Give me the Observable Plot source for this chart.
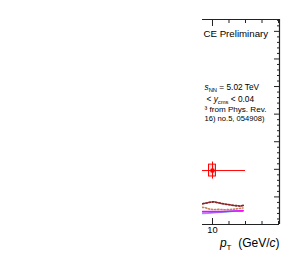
<!DOCTYPE html>
<html><head><meta charset="utf-8">
<script src="https://cdn.jsdelivr.net/npm/d3@7"></script>
<script src="https://cdn.jsdelivr.net/npm/@observablehq/plot@0.6"></script>
<style>body{margin:0;background:#fff}svg{display:block}</style>
</head><body><div id="chart"></div>
<script>
// ---- tick values / labels ----
const xMajorTicks = [10];
const xTickLabels = ["10"];
const xMinorTicks = [12, 14, 16, 18];
const yMajorTicks = [0.2, 0.4, 0.6, 0.8, 1.0, 1.2, 1.4];
const yMinorTicks = [0.04,0.08,0.12,0.16,0.24,0.28,0.32,0.36,0.44,0.48,0.52,0.56,0.64,0.68,0.72,0.76,0.84,0.88,0.92,0.96,1.04,1.08,1.12,1.16,1.24,1.28,1.32,1.36,1.44,1.48];

// ---- data point (pT, value, errors, bin edges) ----
const pointPt = [10.0];
const pointVal = [0.391];
const pointStat = [0.062];
const pointSys = [0.043];
const pointBinLow = [8];
const pointBinHigh = [14];

// ---- model curves ----
const darkRedX = [8.8, 9.12, 9.76, 10.16, 10.57, 10.97, 11.78, 12.58, 13.4, 13.72];
const darkRedY = [0.150, 0.154, 0.162, 0.164, 0.159, 0.154, 0.145, 0.138, 0.133, 0.138];
const tanX = [8.8, 9.1, 9.6, 10.2, 10.8, 11.5, 12.2, 12.9, 13.7];
const tanY = [0.124, 0.122, 0.112, 0.108, 0.110, 0.107, 0.109, 0.113, 0.120];
const magentaX = [8.8, 10, 11, 12, 13, 13.7];
const magentaY = [0.093, 0.094, 0.094, 0.096, 0.098, 0.099];
const blueX = [8.8, 9.5, 10.5, 11.5, 12.5, 13.7];
const blueY = [0.080, 0.082, 0.088, 0.092, 0.097, 0.100];

// ---- annotation texts ----
const titleText = "CE Preliminary";
const legendLines = ["sNN = 5.02 TeV", "< ycms < 0.04", "³ from Phys. Rev.", "16) no.5, 054908)"];
const xLabelText = "pT (GeV/c)";

const xDomain = [8.79, 18.12];
const yDomain = [0, 1.486];

const zip = (xs, ys) => xs.map((x, i) => ({x, y: ys[i]}));
const points = pointPt.map((pt, i) => ({pt, v: pointVal[i], stat: pointStat[i], sys: pointSys[i], lo: pointBinLow[i], hi: pointBinHigh[i]}));
const boxHalf = 0.42;
const font = "'Liberation Sans', Arial, Helvetica, sans-serif";

const plot = Plot.plot({
  width: 300, height: 263,
  marginLeft: 202, marginRight: 21, marginTop: 19, marginBottom: 39,
  style: {fontFamily: font, background: "white", color: "black"},
  x: {domain: xDomain, axis: null},
  y: {domain: yDomain, axis: null},
  marks: [
    // curves
    Plot.line(zip(blueX, blueY), {x: "x", y: "y", stroke: "#4db8ff", strokeWidth: 1.7, clip: true}),
    Plot.line(zip(magentaX, magentaY), {x: "x", y: "y", stroke: "#ff00ff", strokeWidth: 1.7, clip: true}),
    Plot.line(zip(tanX, tanY), {x: "x", y: "y", stroke: "#c08850", strokeWidth: 1.6, strokeDasharray: "1.2,1.9", clip: true}),
    Plot.line(zip(darkRedX, darkRedY), {x: "x", y: "y", stroke: "#8a2525", strokeWidth: 1.8, strokeDasharray: "1.6,1.7", clip: true}),
    // data point
    Plot.ruleY(points, {y: "v", x1: "lo", x2: "hi", stroke: "#ff0000", strokeWidth: 1, clip: true}),
    Plot.ruleX(points, {x: "pt", y1: d => d.v - d.stat, y2: d => d.v + d.stat, stroke: "#ff0000", strokeWidth: 1, clip: true}),
    Plot.rect(points, {x1: d => d.pt - boxHalf, x2: d => d.pt + boxHalf, y1: d => d.v - d.sys, y2: d => d.v + d.sys, stroke: "#ff0000", fill: "#ff0000", fillOpacity: 0.12, strokeWidth: 1, clip: true}),
    Plot.dot(points, {x: "pt", y: "v", r: 2.4, fill: "#ff0000", stroke: "none"}),
    // frame lines (no left edge visible)
    Plot.ruleY([yDomain[0]], {stroke: "#222", strokeWidth: 1}),
    Plot.ruleY([yDomain[1]], {stroke: "#222", strokeWidth: 1}),
    Plot.ruleX([xDomain[1]], {stroke: "#222", strokeWidth: 1.2}),
    // inward ticks
    Plot.axisX({anchor: "bottom", ticks: xMajorTicks, tickSize: -6, tickFormat: () => "", stroke: "#222"}),
    Plot.axisX({anchor: "bottom", ticks: xMinorTicks, tickSize: -3, tickFormat: () => "", stroke: "#222"}),
    Plot.axisX({anchor: "top", ticks: xMajorTicks, tickSize: -6, tickFormat: () => "", stroke: "#222"}),
    Plot.axisX({anchor: "top", ticks: xMinorTicks, tickSize: -3, tickFormat: () => "", stroke: "#222"}),
    Plot.axisY({anchor: "right", ticks: yMajorTicks, tickSize: -6, tickFormat: () => "", stroke: "#222"}),
    Plot.axisY({anchor: "right", ticks: yMinorTicks, tickSize: -3, tickFormat: () => "", stroke: "#222"}),
    Plot.axisX({anchor: "bottom", ticks: xMajorTicks, tickSize: 0, tickPadding: 1.6, tickFormat: (d, i) => xTickLabels[i], fontSize: 9.3, fill: "#000"}),
    // annotations
    Plot.text([titleText], {frameAnchor: "top-left", text: d => d, textAnchor: "start", lineAnchor: "middle", dx: 1, dy: 13.9, fontSize: 9.7, fill: "#000"}),
    Plot.text([legendLines[0]], {frameAnchor: "top-left", text: d => d, textAnchor: "start", lineAnchor: "middle", dx: 2, dy: 68.3, fontSize: 8.3, fill: "#000"}),
    Plot.text([legendLines[1]], {frameAnchor: "top-left", text: d => d, textAnchor: "start", lineAnchor: "middle", dx: 4, dy: 80.3, fontSize: 8.3, fill: "#000"}),
    Plot.text([legendLines[2]], {frameAnchor: "top-left", text: d => d, textAnchor: "start", lineAnchor: "middle", dx: 2, dy: 89.9, fontSize: 8.1, fill: "#000"}),
    Plot.text([legendLines[3]], {frameAnchor: "top-left", text: d => d, textAnchor: "start", lineAnchor: "middle", dx: 2, dy: 99.0, fontSize: 7.6, fill: "#000"}),
    Plot.text([xLabelText], {frameAnchor: "bottom-right", text: d => d, textAnchor: "end", lineAnchor: "middle", dx: 0, dy: 18.2, fontSize: 12, fill: "#000"})
  ]
});

// rich formatting (italics / subscripts) for the annotation texts
const rich = {
  "sNN = 5.02 TeV": '<tspan font-style="italic">s</tspan><tspan dy="2" font-size="5.8">NN</tspan><tspan dy="-2"> = 5.02 TeV</tspan>',
  "< ycms < 0.04": '&lt; <tspan font-style="italic">y</tspan><tspan dy="2" font-size="5.8">cms</tspan><tspan dy="-2"> &lt; 0.04</tspan>',
  "pT (GeV/c)": '<tspan font-style="italic">p</tspan><tspan dy="3.5" font-size="8">T</tspan><tspan dy="-3.5">  (GeV/</tspan><tspan font-style="italic">c</tspan>)'
};
d3.select(plot).selectAll("text").each(function() {
  const t = this.textContent;
  if (rich[t]) this.innerHTML = rich[t];
});
document.getElementById("chart").appendChild(plot);
</script>
</body></html>
